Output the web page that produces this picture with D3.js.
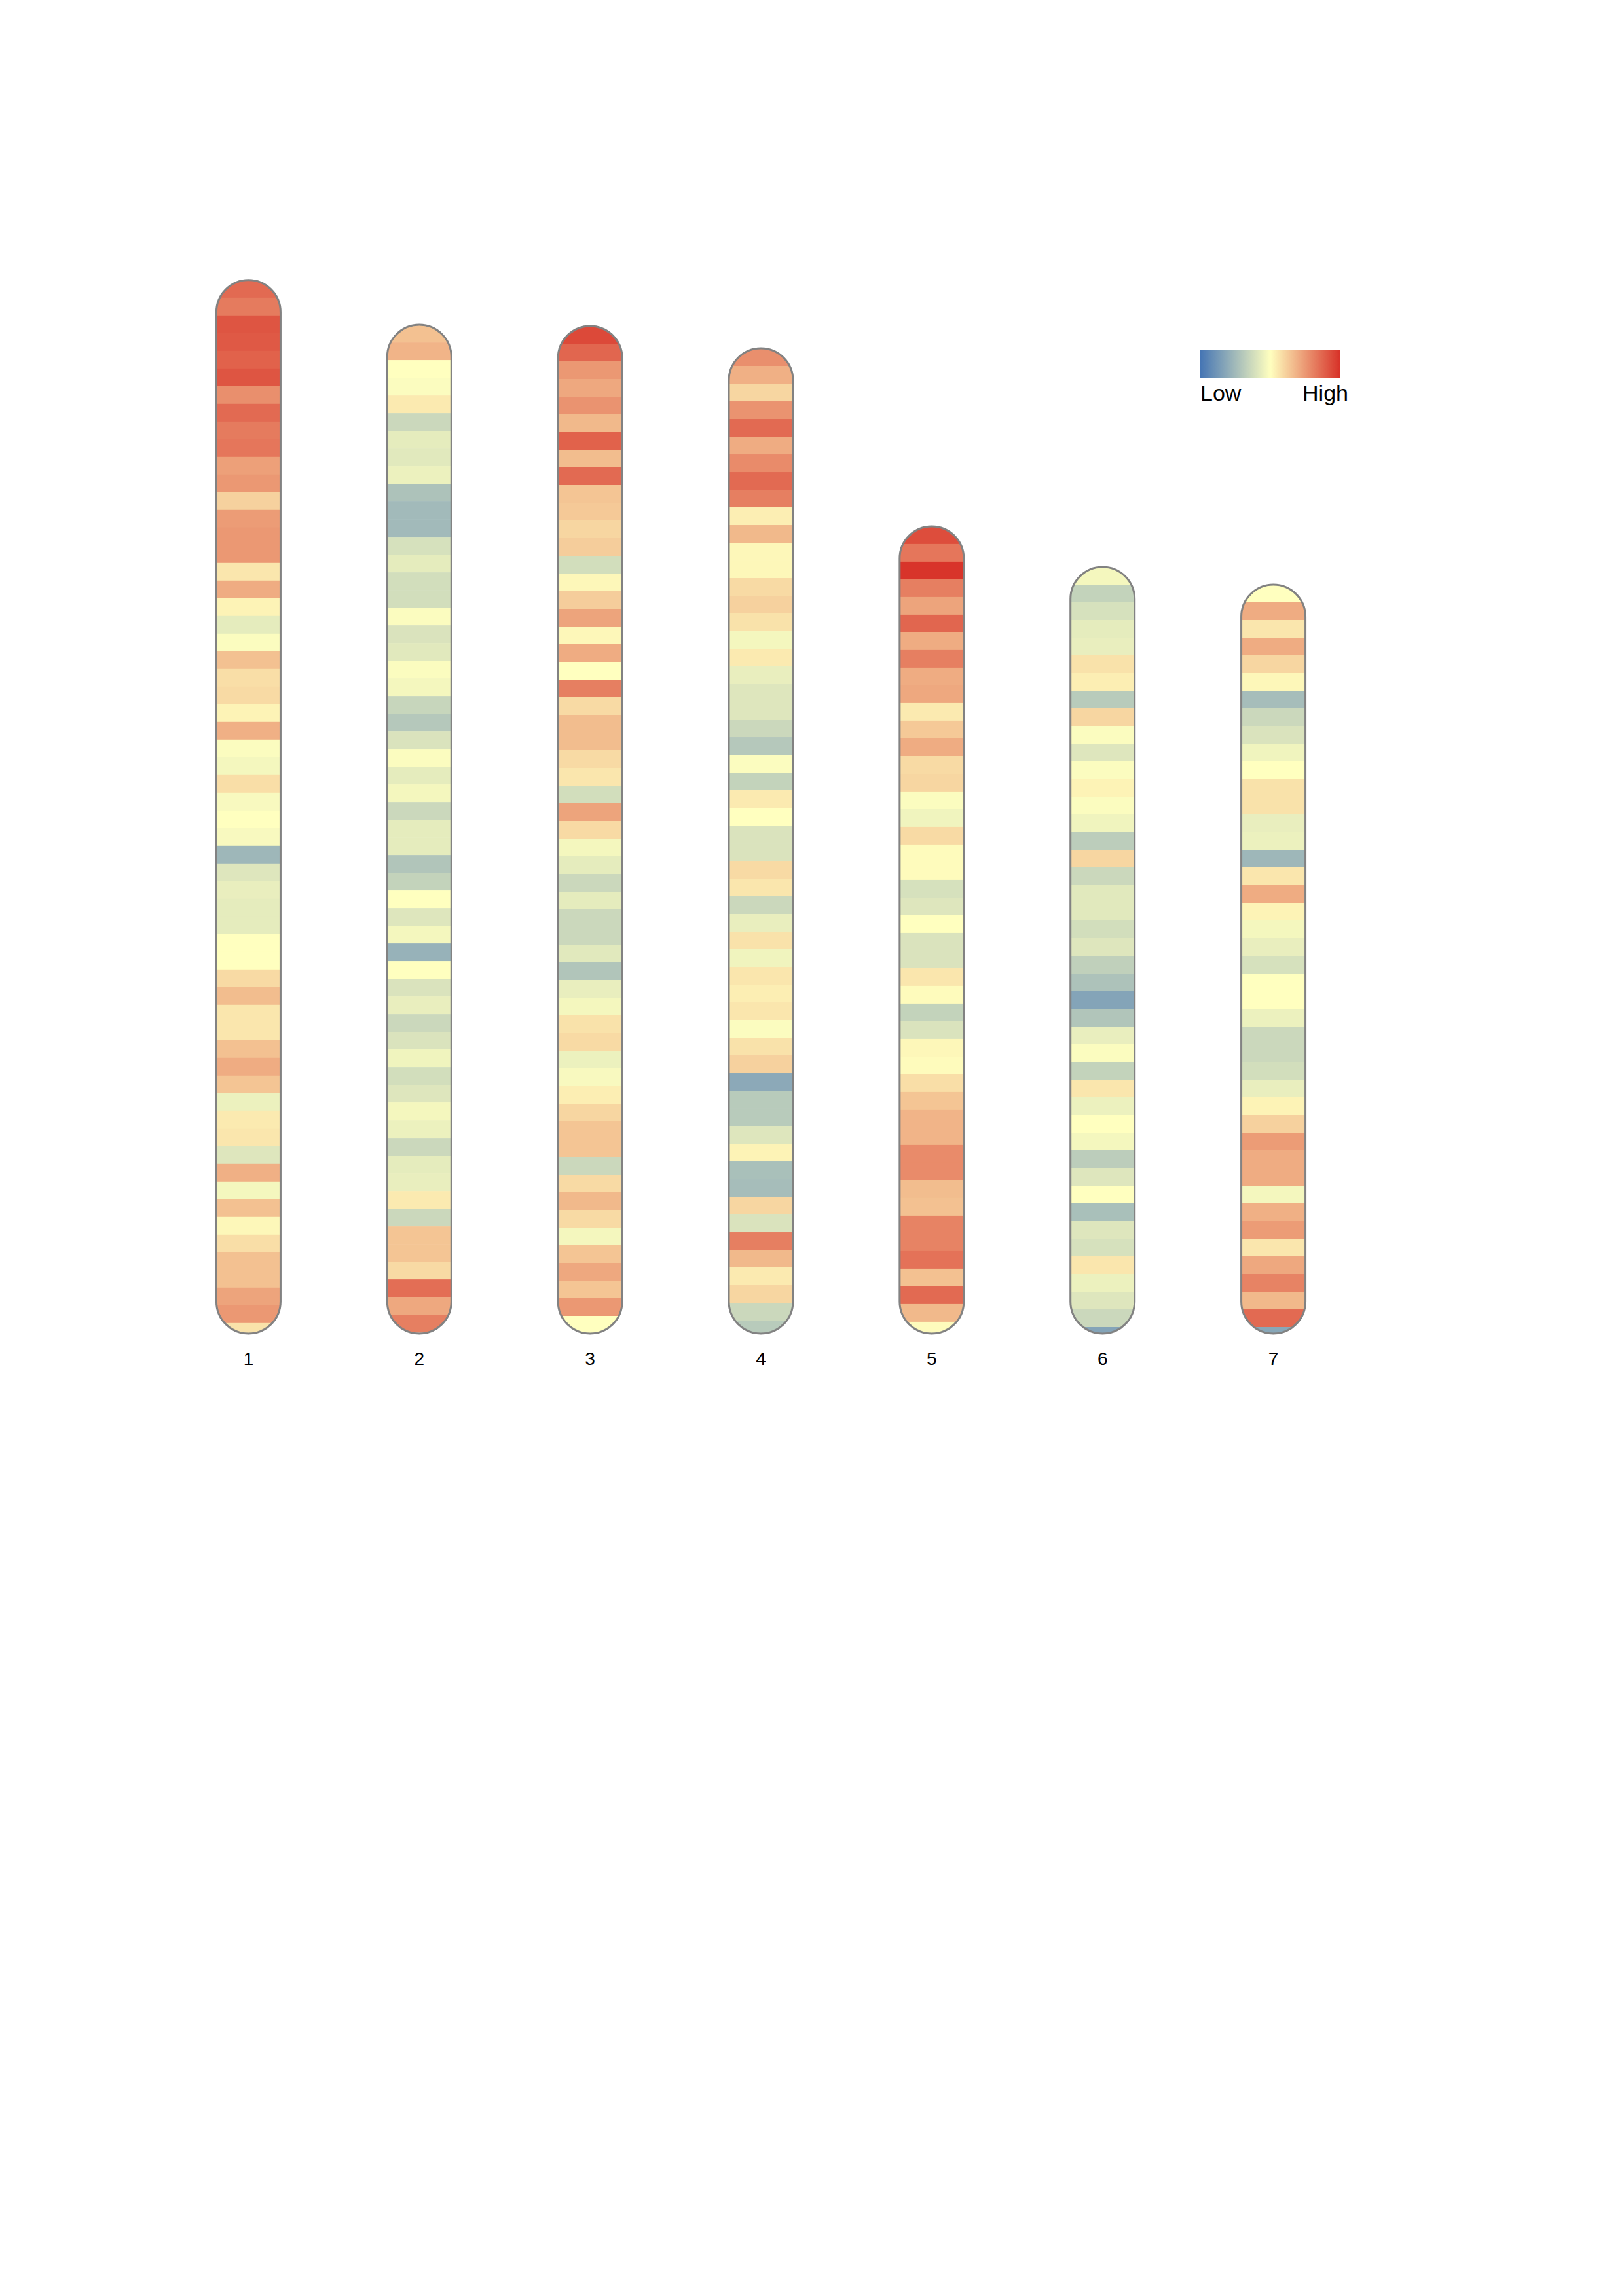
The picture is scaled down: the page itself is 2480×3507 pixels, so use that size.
<!DOCTYPE html>
<html>
<head>
<meta charset="utf-8">
<script src="https://cdn.jsdelivr.net/npm/d3@7"></script>
<style>
    body { margin: 0; background: #fff; }
    svg text { font-family: "Liberation Sans", Arial, sans-serif; fill: #000; }
</style>
</head>
<body>
<svg class="ideogram"></svg>
<script>

// chromosome names and their lengths (in bins, last bin may be partial)
const chromosomes = ["1", "2", "3", "4", "5", "6", "7"];
const chrLengths = [59.6, 57.07, 57.0, 55.74, 45.67, 43.37, 42.37];

// density per bin, 0 = low, 1 = high
const chr1 = [0.86, 0.82, 0.91, 0.90, 0.88, 0.91, 0.77, 0.86, 0.82, 0.83,
              0.73, 0.75, 0.61, 0.74, 0.75, 0.75, 0.56, 0.70, 0.53, 0.43,
              0.49, 0.65, 0.58, 0.59, 0.53, 0.69, 0.49, 0.47, 0.58, 0.48,
              0.50, 0.48, 0.24, 0.41, 0.44, 0.43, 0.43, 0.50, 0.50, 0.59,
              0.66, 0.56, 0.56, 0.65, 0.70, 0.64, 0.45, 0.55, 0.56, 0.41,
              0.69, 0.47, 0.65, 0.52, 0.58, 0.65, 0.65, 0.72, 0.75, 0.57];
const chr2 = [0.65, 0.68, 0.50, 0.49, 0.55, 0.36, 0.43, 0.42, 0.45, 0.28,
              0.25, 0.25, 0.39, 0.43, 0.38, 0.38, 0.49, 0.40, 0.42, 0.49,
              0.47, 0.35, 0.30, 0.40, 0.49, 0.43, 0.47, 0.36, 0.43, 0.43,
              0.29, 0.34, 0.50, 0.41, 0.47, 0.22, 0.50, 0.40, 0.44, 0.36,
              0.40, 0.46, 0.38, 0.41, 0.47, 0.45, 0.36, 0.43, 0.44, 0.55,
              0.36, 0.64, 0.64, 0.59, 0.85, 0.71, 0.81];
const chr3 = [0.94, 0.87, 0.75, 0.71, 0.76, 0.67, 0.88, 0.66, 0.86, 0.64,
              0.63, 0.60, 0.62, 0.38, 0.52, 0.62, 0.72, 0.52, 0.70, 0.50,
              0.81, 0.59, 0.66, 0.66, 0.59, 0.56, 0.38, 0.72, 0.59, 0.47,
              0.43, 0.36, 0.43, 0.36, 0.36, 0.42, 0.29, 0.44, 0.47, 0.57,
              0.59, 0.45, 0.48, 0.54, 0.60, 0.64, 0.64, 0.36, 0.59, 0.67,
              0.59, 0.47, 0.64, 0.71, 0.64, 0.75, 0.50];
const chr4 = [0.77, 0.69, 0.60, 0.76, 0.86, 0.70, 0.78, 0.86, 0.81, 0.54,
              0.67, 0.52, 0.52, 0.59, 0.61, 0.57, 0.47, 0.55, 0.44, 0.41,
              0.41, 0.36, 0.30, 0.49, 0.34, 0.55, 0.50, 0.40, 0.40, 0.59,
              0.56, 0.36, 0.44, 0.57, 0.46, 0.56, 0.54, 0.56, 0.49, 0.57,
              0.61, 0.19, 0.31, 0.31, 0.41, 0.53, 0.27, 0.26, 0.60, 0.40,
              0.81, 0.67, 0.55, 0.60, 0.36, 0.31];
const chr5 = [0.93, 0.83, 0.99, 0.81, 0.72, 0.87, 0.70, 0.81, 0.70, 0.71,
              0.55, 0.63, 0.70, 0.59, 0.60, 0.49, 0.46, 0.59, 0.51, 0.51,
              0.39, 0.41, 0.50, 0.40, 0.40, 0.56, 0.51, 0.34, 0.40, 0.52,
              0.51, 0.58, 0.64, 0.68, 0.68, 0.78, 0.78, 0.66, 0.65, 0.80,
              0.80, 0.84, 0.65, 0.86, 0.67, 0.51];
const chr6 = [0.47, 0.34, 0.39, 0.43, 0.44, 0.57, 0.54, 0.31, 0.60, 0.49,
              0.41, 0.49, 0.53, 0.49, 0.46, 0.32, 0.60, 0.36, 0.42, 0.42,
              0.38, 0.41, 0.33, 0.28, 0.17, 0.29, 0.44, 0.49, 0.34, 0.56,
              0.45, 0.50, 0.47, 0.32, 0.41, 0.50, 0.27, 0.41, 0.39, 0.56,
              0.45, 0.41, 0.36, 0.17];
const chr7 = [0.50, 0.70, 0.56, 0.70, 0.60, 0.52, 0.26, 0.36, 0.40, 0.46,
              0.50, 0.57, 0.57, 0.44, 0.45, 0.24, 0.56, 0.70, 0.53, 0.47,
              0.44, 0.39, 0.50, 0.50, 0.45, 0.36, 0.36, 0.38, 0.44, 0.53,
              0.61, 0.74, 0.70, 0.70, 0.47, 0.69, 0.74, 0.56, 0.71, 0.80,
              0.67, 0.86, 0.18];
const densities = [chr1, chr2, chr3, chr4, chr5, chr6, chr7];

// legend
const legendLabels = ["Low", "High"];
const legendColors = ["#4575b4", "#ffffbf", "#d73027"];

const width = 2480,
      height = 3507,
      chrWidth = 98,
      maxLen = 60;

const svg = d3.select("svg.ideogram")
    .attr("width", width)
    .attr("height", height);

svg.append("rect")
    .attr("width", width)
    .attr("height", height)
    .attr("fill", "#fff");

const x = d3.scaleBand()
    .domain(chromosomes)
    .range([249, 2075])
    .paddingInner(0.624)
    .paddingOuter(0.312);

// chromosomes are aligned at the bottom
const y = d3.scaleLinear()
    .domain([0, maxLen])
    .range([2037 - maxLen * 27, 2037]);

const color = d3.scaleLinear()
    .domain([0, 0.5, 1])
    .range(legendColors);

const defs = svg.append("defs");

chromosomes.forEach(function(name, i) {
    const offset = maxLen - chrLengths[i];
    const cx = x(name) + x.bandwidth() / 2;
    const left = cx - chrWidth / 2;
    const top = y(offset);
    const bottom = y(maxLen);

    defs.append("clipPath")
        .attr("id", "clip-chr" + name)
        .append("rect")
            .attr("x", left)
            .attr("y", top)
            .attr("width", chrWidth)
            .attr("height", bottom - top)
            .attr("rx", chrWidth / 2)
            .attr("ry", chrWidth / 2);

    const g = svg.append("g")
        .attr("class", "chromosome");

    g.append("g")
        .attr("clip-path", "url(#clip-chr" + name + ")")
        .selectAll("rect")
        .data(densities[i])
        .enter().append("rect")
            .attr("x", left)
            .attr("y", (d, j) => y(offset + j))
            .attr("width", chrWidth)
            .attr("height", (d, j) => y(offset + Math.min(j + 1, chrLengths[i])) - y(offset + j) + 0.5)
            .attr("fill", (d) => color(d));

    // outline on top
    g.append("rect")
        .attr("x", left)
        .attr("y", top)
        .attr("width", chrWidth)
        .attr("height", bottom - top)
        .attr("rx", chrWidth / 2)
        .attr("ry", chrWidth / 2)
        .attr("fill", "none")
        .attr("stroke", "#828282")
        .attr("stroke-width", 3);

    g.append("text")
        .attr("x", cx)
        .attr("y", bottom + 48)
        .attr("text-anchor", "middle")
        .attr("font-size", 28)
        .text(name);
});

// colour key
const grad = defs.append("linearGradient")
    .attr("id", "legend-gradient");
grad.selectAll("stop")
    .data(legendColors)
    .enter().append("stop")
        .attr("offset", (d, i) => (i * 50) + "%")
        .attr("stop-color", (d) => d);

const legend = svg.append("g")
    .attr("class", "legend")
    .attr("transform", "translate(1833,535)");

legend.append("rect")
    .attr("width", 214)
    .attr("height", 43)
    .attr("fill", "url(#legend-gradient)");

legend.append("text")
    .attr("x", 0)
    .attr("y", 77)
    .attr("font-size", 34)
    .text(legendLabels[0]);

legend.append("text")
    .attr("x", 226)
    .attr("y", 77)
    .attr("text-anchor", "end")
    .attr("font-size", 34)
    .text(legendLabels[1]);

</script>
</body>
</html>
